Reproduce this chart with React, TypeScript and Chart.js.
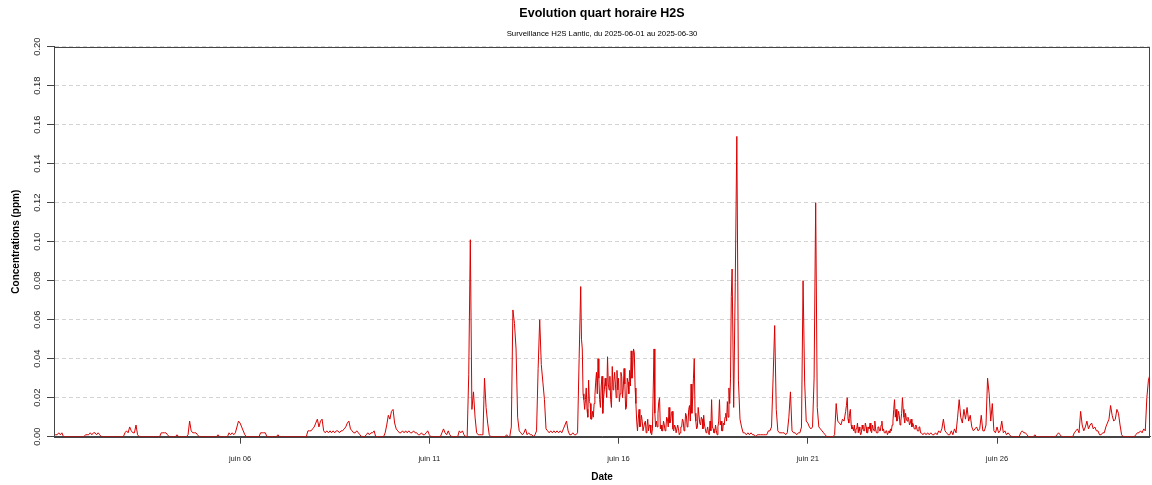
import { useEffect, useRef } from 'react';
import { Chart, registerables } from 'chart.js';

Chart.register(...registerables);

const TITLE = 'Evolution quart horaire H2S';
const SUBTITLE = 'Surveillance H2S Lantic, du 2025-06-01 au 2025-06-30';
const Y_TITLE = 'Concentrations (ppm)';
const X_TITLE = 'Date';

// x values are hours since 2025-06-01 00:00
const X_MIN = 2;
const X_MAX = 697;
const X_TICK_HOURS = [120, 240, 360, 480, 600];
const X_TICK_LABELS = ['juin 06', 'juin 11', 'juin 16', 'juin 21', 'juin 26'];
const Y_TICKS = [0, 0.02, 0.04, 0.06, 0.08, 0.1, 0.12, 0.14, 0.16, 0.18, 0.2];

// H2S concentration in thousandths of ppm, one array per day
// (24 values = hourly readings, 48 values = half-hourly readings)
const juin01 = [0, 0, 1, 1, 1, 2, 1, 2, 0, 0, 0, 0, 0, 0, 0, 0, 0, 0, 0, 0, 0, 0, 1, 1];
const juin02 = [1, 2, 1, 2, 2, 1, 2, 1, 0, 0, 0, 0, 0, 0, 0, 0, 0, 0, 0, 0, 0, 0, 0, 2];
const juin03 = [3, 2, 5, 3, 2, 2, 6, 1, 0, 0, 0, 0, 0, 0, 0, 0, 0, 0, 0, 0, 0, 0, 2, 2];
const juin04 = [2, 2, 1, 0, 0, 0, 0, 0, 1, 0, 0, 0, 0, 0, 0, 1, 8, 3, 2, 2, 2, 1, 0, 0];
const juin05 = [0, 0, 0, 0, 0, 0, 0, 0, 0, 0, 1, 0, 0, 0, 0, 0, 0, 2, 1, 2, 1, 2, 5, 8];
const juin06 = [7, 5, 3, 1, 0, 0, 0, 0, 0, 0, 0, 0, 0, 2, 2, 2, 2, 0, 0, 0, 0, 0, 0, 0];
const juin07 = [1, 0, 0, 0, 0, 0, 0, 0, 0, 0, 0, 0, 0, 0, 0, 0, 0, 0, 0, 3, 3, 3, 4, 5];
const juin08 = [7, 9, 5, 8, 9, 3, 2, 3, 2, 3, 2, 3, 2, 3, 3, 2, 3, 3, 4, 5, 7, 8, 4, 3];
const juin09 = [2, 2, 3, 2, 1, 0, 0, 0, 1, 2, 1, 2, 2, 3, 0, 0, 0, 0, 0, 0, 2, 6, 11, 9];
const juin10 = [13, 14, 7, 4, 3, 2, 2, 3, 2, 3, 2, 3, 2, 2, 3, 2, 2, 1, 1, 2, 1, 1, 2, 3];
const juin11 = [1, 0, 0, 0, 0, 0, 0, 0, 2, 4, 2, 1, 3, 1, 0, 0, 0, 0, 0, 3, 2, 3, 1, 0];
const juin12 = [0, 32, 101, 14, 23, 10, 2, 1, 1, 1, 1, 30, 15, 7, 1, 0, 0, 0, 0, 0, 0, 0, 0, 0];
const juin13 = [0, 1, 0, 0, 5, 65, 58, 45, 10, 3, 2, 1, 2, 4, 1, 2, 1, 1, 0, 1, 3, 35, 60, 37];
const juin14 = [28, 19, 4, 3, 2, 3, 2, 3, 2, 3, 2, 3, 2, 4, 6, 8, 3, 1, 1, 2, 1, 1, 2, 40];
const juin15 = [
  77, 50, 45, 22, 19, 14, 19, 25, 14, 10, 29, 18, 17, 9, 9, 13, 10, 17, 21, 28, 33, 22, 40, 30,
  19, 15, 26, 31, 12, 20, 24, 30, 26, 20, 41, 27, 24, 31, 19, 15, 36, 24, 28, 33, 27, 20, 34, 24,
];
const juin16 = [
  30, 18, 22, 33, 31, 20, 25, 35, 27, 14, 15, 30, 28, 22, 34, 26, 44, 30, 36, 45, 43, 25, 17, 8,
  3, 9, 14, 5, 6, 11, 8, 3, 3, 7, 8, 2, 5, 9, 3, 6, 6, 2, 1, 4, 25, 45, 12, 5,
];
const juin17 = [
  8, 5, 12, 18, 20, 4, 6, 3, 3, 8, 6, 3, 4, 10, 9, 5, 15, 7, 8, 12, 13, 4, 3, 6,
  5, 2, 2, 6, 4, 1, 2, 5, 5, 9, 8, 3, 4, 12, 11, 5, 6, 14, 16, 8, 27, 12, 20, 30,
];
const juin18 = [
  40, 12, 8, 4, 5, 15, 15, 7, 6, 10, 9, 4, 11, 6, 4, 2, 3, 5, 2, 1, 8, 3, 19, 5,
  4, 2, 2, 6, 3, 1, 5, 8, 19, 6, 8, 3, 3, 7, 6, 10, 12, 8, 18, 10, 25, 17, 30, 72,
];
const juin19 = [86, 15, 79, 154, 29, 9, 5, 2, 2, 1, 2, 1, 2, 1, 1, 0, 1, 1, 1, 1, 1, 1, 1, 3];
const juin20 = [3, 5, 30, 57, 14, 3, 2, 2, 2, 2, 1, 2, 10, 23, 3, 2, 2, 1, 2, 2, 5, 80, 28, 8];
const juin21 = [7, 5, 4, 5, 30, 120, 15, 5, 4, 3, 2, 1, 0, 0, 0, 0, 0, 1, 17, 8, 7, 6, 9, 8];
const juin22 = [
  13, 16, 20, 9, 7, 12, 14, 6, 4, 5, 3, 6, 2, 4, 4, 7, 2, 5, 3, 1, 2, 6, 4, 3,
  3, 7, 5, 2, 2, 5, 4, 7, 3, 2, 6, 4, 3, 8, 4, 2, 2, 5, 5, 3, 3, 6, 8, 3,
];
const juin23 = [
  4, 2, 2, 3, 3, 1, 2, 3, 2, 4, 3, 6, 8, 14, 19, 10, 14, 8, 9, 13, 11, 6, 8, 12,
  20, 14, 10, 7, 12, 9, 8, 10, 9, 6, 7, 9, 5, 7, 6, 4, 4, 6, 5, 3, 3, 5, 5, 2,
];
const juin24 = [2, 1, 2, 1, 2, 1, 2, 1, 1, 2, 1, 3, 2, 4, 9, 3, 2, 1, 1, 3, 1, 4, 2, 10];
const juin25 = [19, 10, 7, 14, 9, 15, 8, 11, 5, 3, 4, 5, 3, 4, 11, 3, 3, 6, 30, 22, 8, 17, 3, 2];
const juin26 = [5, 2, 3, 8, 2, 3, 1, 2, 1, 0, 0, 0, 0, 0, 0, 2, 3, 2, 2, 1, 0, 0, 0, 0];
const juin27 = [1, 0, 0, 0, 0, 0, 0, 0, 0, 0, 0, 0, 0, 0, 1, 2, 1, 0, 0, 0, 0, 0, 0, 0];
const juin28 = [0, 2, 3, 4, 2, 13, 6, 3, 5, 8, 4, 6, 7, 4, 5, 3, 3, 1, 1, 2, 2, 5, 7, 9];
const juin29 = [16, 11, 8, 9, 14, 12, 6, 1, 0, 0, 0, 0, 0, 0, 0, 0, 1, 2, 2, 3, 2, 4, 3, 20];
const juin30 = [29, 32];

const DAYS = [
  juin01, juin02, juin03, juin04, juin05, juin06, juin07, juin08, juin09, juin10,
  juin11, juin12, juin13, juin14, juin15, juin16, juin17, juin18, juin19, juin20,
  juin21, juin22, juin23, juin24, juin25, juin26, juin27, juin28, juin29, juin30,
];

const FONT = "'Liberation Sans', Arial, Helvetica, sans-serif";
const LINE_COLOR = '#D80000';
const AXIS_COLOR = '#444444';
const GRID_COLOR = '#D3D3D3';

const boxPlugin = {
  id: 'plotBox',
  afterDraw(chart: any) {
    const { ctx, chartArea } = chart;
    const l = Math.round(chartArea.left) + 0.5;
    const t = Math.round(chartArea.top) + 0.5;
    const r = Math.round(chartArea.right) - 0.5;
    const b = Math.round(chartArea.bottom) + 0.5;
    ctx.save();
    ctx.strokeStyle = AXIS_COLOR;
    ctx.lineWidth = 1;
    ctx.strokeRect(l, t, r - l, b - t);
    ctx.restore();
  },
};

export default function App() {
  const ref = useRef<HTMLCanvasElement | null>(null);

  useEffect(() => {
    if (!ref.current) return;
    const points = DAYS.flatMap((day, d) => {
      const step = day.length >= 24 ? 24 / day.length : 1;
      return day.map((v, i) => ({ x: d * 24 + i * step, y: v / 1000 }));
    });

    const chart = new Chart(ref.current, {
      type: 'line',
      data: {
        datasets: [
          {
            data: points,
            borderColor: LINE_COLOR,
            borderWidth: 1,
            pointRadius: 0,
            tension: 0,
            fill: false,
          },
        ],
      },
      options: {
        animation: false,
        responsive: false,
        events: [],
        layout: { padding: { left: 0, right: 2, top: 0, bottom: 0 } },
        plugins: {
          legend: { display: false },
          tooltip: { enabled: false },
          title: {
            display: true,
            text: TITLE,
            fullSize: false,
            color: '#000',
            font: { family: FONT, size: 12.5, weight: 'bold', lineHeight: 1.2 },
            padding: { top: 6, bottom: 0 },
          },
          subtitle: {
            display: true,
            text: SUBTITLE,
            fullSize: false,
            color: '#000',
            font: { family: FONT, size: 7.8, lineHeight: 1.2 },
            padding: { top: 7.9, bottom: 8.44 },
          },
        },
        scales: {
          x: {
            type: 'linear',
            min: X_MIN,
            max: X_MAX,
            afterFit: (s: any) => {
              s.height = 48.3;
            },
            afterBuildTicks: (s: any) => {
              s.ticks = X_TICK_HOURS.map((v) => ({ value: v }));
            },
            ticks: {
              autoSkip: false,
              minRotation: 0,
              maxRotation: 0,
              padding: 10.5,
              color: '#222',
              font: { family: FONT, size: 7.6, lineHeight: 1.2 },
              callback: (v: any) => {
                const i = X_TICK_HOURS.indexOf(Number(v));
                return i >= 0 ? X_TICK_LABELS[i] : '';
              },
            },
            grid: {
              drawOnChartArea: false,
              drawTicks: true,
              tickLength: 7,
              color: AXIS_COLOR,
              tickColor: AXIS_COLOR,
              lineWidth: 1,
            },
            border: { display: true, color: AXIS_COLOR, width: 1 },
            title: {
              display: true,
              text: X_TITLE,
              color: '#000',
              font: { family: FONT, size: 10, weight: 'bold', lineHeight: 1.2 },
              padding: { top: 0, bottom: 1.3 },
            },
          },
          y: {
            type: 'linear',
            min: 0,
            max: 0.2,
            afterFit: (s: any) => {
              s.width = 54;
            },
            afterBuildTicks: (s: any) => {
              s.ticks = Y_TICKS.map((v) => ({ value: v }));
            },
            ticks: {
              autoSkip: false,
              minRotation: 90,
              maxRotation: 90,
              crossAlign: 'center',
              padding: 0.5,
              color: '#222',
              font: { family: FONT, size: 9.4, lineHeight: 1.2 },
              callback: (v: any) => Number(v).toFixed(2),
            },
            grid: {
              drawOnChartArea: true,
              drawTicks: true,
              tickLength: 7,
              color: GRID_COLOR,
              tickColor: AXIS_COLOR,
              lineWidth: 1,
            },
            border: { display: true, color: AXIS_COLOR, width: 1, dash: [4, 3] },
            title: {
              display: true,
              text: Y_TITLE,
              color: '#000',
              font: { family: FONT, size: 10, weight: 'bold', lineHeight: 1.2 },
              padding: { top: 10, bottom: 0 },
            },
          },
        },
      } as any,
      plugins: [boxPlugin],
    });

    return () => chart.destroy();
  }, []);

  return (
    <div style={{ position: 'fixed', left: 0, top: 0, width: 1152, height: 485, background: '#fff' }}>
      <canvas ref={ref} width={1152} height={485} style={{ display: 'block', width: 1152, height: 485 }} />
    </div>
  );
}
